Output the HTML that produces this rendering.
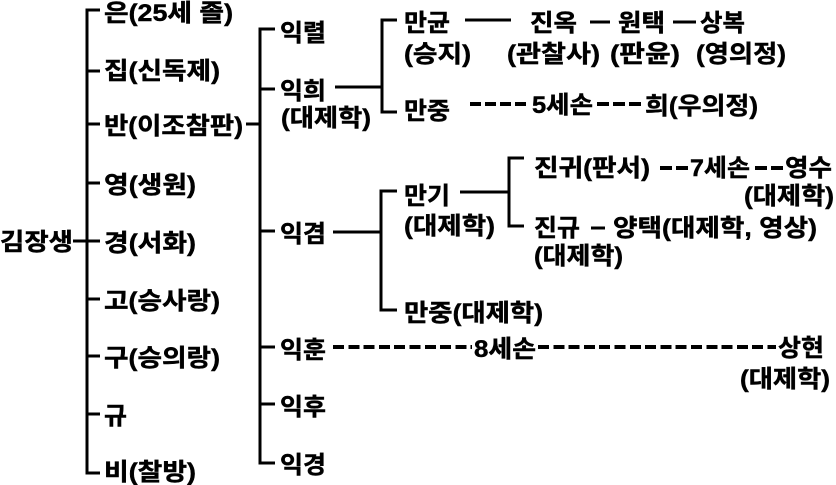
<!DOCTYPE html>
<html lang="ko">
<head>
<meta charset="utf-8">
<title>김장생 가계도</title>
<style>
html,body{margin:0;padding:0;background:#fff}
svg{display:block}
text{font-family:"Liberation Sans","Noto Sans CJK KR",sans-serif;font-weight:700;font-size:24px;fill:#000;stroke:#000;stroke-width:.45px}
</style>
</head>
<body>
<svg width="836" height="485" viewBox="0 0 836 485" xmlns="http://www.w3.org/2000/svg">
<g fill="none" stroke="#000" stroke-width="3" shape-rendering="crispEdges">
<path d="M100 10H87V473H100M87 71H100M87 124H100M87 183H100M87 241H100M87 299H100M87 356H100M87 414H100M73 241H87"/>
<path d="M275 29H260V463H275M260 89H275M260 231H275M260 347H275M260 404H275M246 124H260"/>
<path d="M397 20H382V112H397M335 87H382"/>
<path d="M397 191H381V310H397M333 232H381"/>
<path d="M524 158H509V226H524M460 192H509"/>
<path d="M465 20H511M590 22H610M673 22H696M591 228H605"/>
<path stroke-width="4" stroke-dasharray="11 4" d="M470 104H530"/>
<path stroke-width="4" stroke-dasharray="12 4" d="M597 104H642M660 168H689M755 168H783"/>
<path stroke-width="4" stroke-dasharray="11 4.3" d="M333 347H472M538 347H776"/>
</g>
<text x="0" y="250" textLength="73" lengthAdjust="spacingAndGlyphs">김장생</text>
<text x="104" y="21" textLength="129" lengthAdjust="spacingAndGlyphs">은(25세 졸)</text>
<text x="104" y="79" textLength="116" lengthAdjust="spacingAndGlyphs">집(신독제)</text>
<text x="104" y="134" textLength="139" lengthAdjust="spacingAndGlyphs">반(이조참판)</text>
<text x="104" y="193" textLength="92" lengthAdjust="spacingAndGlyphs">영(생원)</text>
<text x="104" y="251" textLength="92" lengthAdjust="spacingAndGlyphs">경(서화)</text>
<text x="104" y="309" textLength="116" lengthAdjust="spacingAndGlyphs">고(승사랑)</text>
<text x="104" y="366" textLength="116" lengthAdjust="spacingAndGlyphs">구(승의랑)</text>
<text x="104" y="424" textLength="23" lengthAdjust="spacingAndGlyphs">규</text>
<text x="104" y="480" textLength="92" lengthAdjust="spacingAndGlyphs">비(찰방)</text>
<text x="280" y="41" textLength="46" lengthAdjust="spacingAndGlyphs">익렬</text>
<text x="280" y="99" textLength="46" lengthAdjust="spacingAndGlyphs">익희</text>
<text x="281" y="126" textLength="90" lengthAdjust="spacingAndGlyphs">(대제학)</text>
<text x="280" y="242" textLength="46" lengthAdjust="spacingAndGlyphs">익겸</text>
<text x="280" y="358" textLength="46" lengthAdjust="spacingAndGlyphs">익훈</text>
<text x="280" y="415" textLength="46" lengthAdjust="spacingAndGlyphs">익후</text>
<text x="280" y="473" textLength="46" lengthAdjust="spacingAndGlyphs">익경</text>
<text x="404" y="31" textLength="46" lengthAdjust="spacingAndGlyphs">만균</text>
<text x="404" y="62" textLength="67" lengthAdjust="spacingAndGlyphs">(승지)</text>
<text x="404" y="119" textLength="46" lengthAdjust="spacingAndGlyphs">만중</text>
<text x="404" y="204" textLength="46" lengthAdjust="spacingAndGlyphs">만기</text>
<text x="404" y="234" textLength="91" lengthAdjust="spacingAndGlyphs">(대제학)</text>
<text x="404" y="321" textLength="139" lengthAdjust="spacingAndGlyphs">만중(대제학)</text>
<text x="530" y="31" textLength="47" lengthAdjust="spacingAndGlyphs">진옥</text>
<text x="507" y="62" textLength="93" lengthAdjust="spacingAndGlyphs">(관찰사)</text>
<text x="618" y="31" textLength="47" lengthAdjust="spacingAndGlyphs">원택</text>
<text x="610" y="62" textLength="70" lengthAdjust="spacingAndGlyphs">(판윤)</text>
<text x="700" y="31" textLength="45" lengthAdjust="spacingAndGlyphs">상복</text>
<text x="696" y="62" textLength="90" lengthAdjust="spacingAndGlyphs">(영의정)</text>
<text x="532" y="113" textLength="61" lengthAdjust="spacingAndGlyphs">5세손</text>
<text x="645" y="114" textLength="113" lengthAdjust="spacingAndGlyphs">희(우의정)</text>
<text x="534" y="176" textLength="116" lengthAdjust="spacingAndGlyphs">진귀(판서)</text>
<text x="690" y="176" textLength="60" lengthAdjust="spacingAndGlyphs">7세손</text>
<text x="785" y="176" textLength="47" lengthAdjust="spacingAndGlyphs">영수</text>
<text x="744" y="204" textLength="90" lengthAdjust="spacingAndGlyphs">(대제학)</text>
<text x="534" y="236" textLength="46" lengthAdjust="spacingAndGlyphs">진규</text>
<text x="613" y="236" textLength="204" lengthAdjust="spacingAndGlyphs">양택(대제학, 영상)</text>
<text x="534" y="264" textLength="89" lengthAdjust="spacingAndGlyphs">(대제학)</text>
<text x="474" y="357" textLength="62" lengthAdjust="spacingAndGlyphs">8세손</text>
<text x="778" y="356" textLength="46" lengthAdjust="spacingAndGlyphs">상현</text>
<text x="740" y="387" textLength="90" lengthAdjust="spacingAndGlyphs">(대제학)</text>
</svg>
</body>
</html>
